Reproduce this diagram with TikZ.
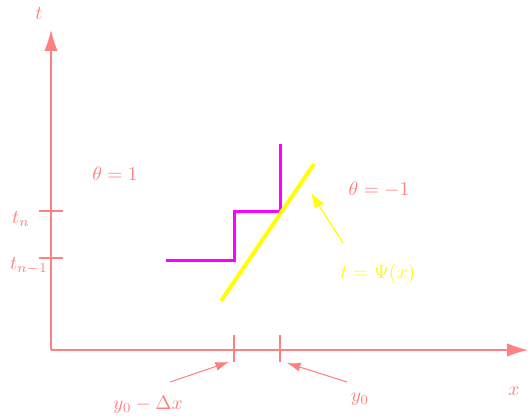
\documentclass[tikz,border=0pt]{standalone}
\usepackage{amsmath,amssymb}
\usepackage{tikz}
\usetikzlibrary{arrows.meta,positioning,calc}
\definecolor{axisred}{RGB}{255,128,128}
\definecolor{stairmag}{RGB}{255,0,255}
\definecolor{frontyel}{RGB}{255,255,0}

\begin{document}
\begin{tikzpicture}[
    x=0.6667pt,
    y=-0.6667pt,
    axis/.style={
        draw=axisred,
        line width=0.9pt,
        -{Latex[length=14pt,width=9pt]}
    },
    tick/.style={
        draw=axisred,
        line width=0.8pt
    },
    lbl/.style={
        text=axisred,
        inner sep=0pt,
        scale=1.3
    },
    ptr/.style={
        draw=axisred,
        line width=0.7pt,
        -{Latex[length=9pt,width=6pt]}
    },
    stair/.style={
        draw=stairmag,
        line width=2pt
    },
    front/.style={
        draw=frontyel,
        line width=2.6pt
    }
]
\useasboundingbox (0,0) rectangle (529,416);

% axes
\coordinate (origin) at (51,350);
\coordinate (tend) at (51,30);
\coordinate (xend) at (528,350);
\draw[axis] (origin) -- (tend);
\draw[axis] (origin) -- (xend);
\node[lbl] (tlab) at (39,14) {$t$};
\node[lbl] (xlab) at (514,391) {$x$};

% ticks on t axis
\coordinate (tn) at (51,211);
\coordinate (tm) at (51,258);
\draw[tick] ([xshift=-8]tn) -- ([xshift=8]tn);
\draw[tick] ([xshift=-8]tm) -- ([xshift=8]tm);
\node[lbl] (tnlab) at (21,219) {$t_n$};
\node[lbl] (tmlab) at (29,266) {$t_{n-1}$};

% ticks on x axis
\coordinate (ya) at (234,350);
\coordinate (yb) at (280,350);
\draw[tick] ([yshift=-8]ya) -- ([yshift=10]ya);
\draw[tick] ([yshift=-8]yb) -- ([yshift=10]yb);
\node[lbl] (yalab) at (148,405) {$y_0-\Delta x$};
\node[lbl] (yblab) at (360,399) {$y_0$};
\coordinate (yafoot) at (170,382);
\coordinate (ybfoot) at (347,382);
\draw[ptr] (yafoot) -- (229,362);
\draw[ptr] (ybfoot) -- (287,363);

% regions
\node[lbl] (left) at (115,174) {$\theta=1$};
\node[lbl] (right) at (379,190) {$\theta=-1$};

% staircase and front
\draw[stair] (166,261) -- (234,261) -- (234,212) -- (280,212) -- (280,144);
\coordinate (fa) at (221,301);
\coordinate (fb) at (314,164);
\draw[front] (fa) -- (fb);
\node[lbl,text=frontyel] (psi) at (378,274) {$t=\Psi(x)$};
\coordinate (psifoot) at (343,243);
\draw[draw=frontyel,line width=0.8pt,-{Latex[length=10pt,width=7pt]}] (psifoot) -- (311,193);

\end{tikzpicture}
\end{document}
